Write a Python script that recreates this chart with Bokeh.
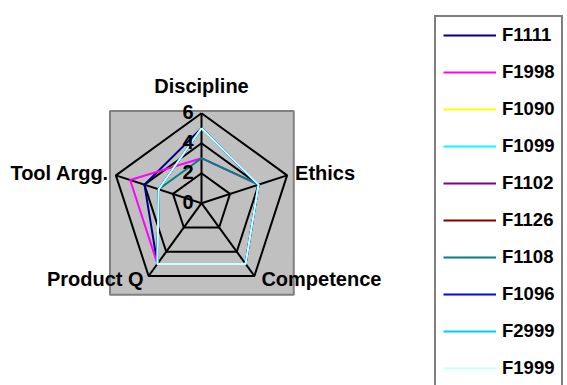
import numpy as np
from bokeh.plotting import figure
from bokeh.models import Range1d, Legend, LegendItem, ColumnDataSource
from bokeh.core.properties import value
from bokeh.embed import file_html
from bokeh.resources import INLINE

# ---------------- data ----------------
categories = ["Discipline", "Ethics", "Competence", "Product Q", "Tool Argg."]
series_names = ["F1111", "F1998", "F1090", "F1099", "F1102",
                "F1126", "F1108", "F1096", "F2999", "F1999"]
F1111 = [5, 4, 5, 5, 4]
F1998 = [3, 4, 5, 5, 5]
F1090 = [5, 4, 5, 5, 3]
F1099 = [5, 4, 5, 5, 3]
F1102 = [5, 4, 5, 5, 3]
F1126 = [5, 4, 5, 5, 3]
F1108 = [3, 4, 5, 5, 3]
F1096 = [5, 4, 5, 5, 3]
F2999 = [5, 4, 5, 5, 3]
F1999 = [5, 4, 5, 5, 3]
series_values = [F1111, F1998, F1090, F1099, F1102, F1126, F1108, F1096, F2999, F1999]
series_colors = ["#000080", "#FF00FF", "#FFFF00", "#00FFFF", "#800080",
                 "#800000", "#008080", "#0000FF", "#00CCFF", "#CCFFFF"]
tick_values = [0, 2, 4, 6]
tick_labels = ["0", "2", "4", "6"]
r_max = 6

# ---------------- layout ----------------
W, H = 567, 385
PX = 15.0                     # pixels per radial unit
cx_px, cy_px = 201.0, 202.7   # radar centre inside the canvas (px from top-left)
FONT = "Liberation Sans"

p = figure(width=W, height=H, output_backend="svg", toolbar_location=None,
           x_axis_location=None, y_axis_location=None, min_border=0,
           x_range=Range1d(-cx_px / PX, (W - cx_px) / PX),
           y_range=Range1d(-(H - cy_px) / PX, cy_px / PX))
p.grid.visible = False
p.outline_line_color = None
p.background_fill_color = "white"
p.border_fill_color = "white"

n = len(categories)
theta = np.pi / 2 - 2 * np.pi * np.arange(n) / n


def polar(vals):
    v = np.asarray(vals, dtype=float)
    return v * np.cos(theta), v * np.sin(theta)


# plot-area box
pad = 0.1
p.quad(left=-(r_max + pad), right=r_max + pad + 0.05, top=r_max + pad + 0.05, bottom=-(r_max + pad),
       fill_color="#C0C0C0", line_color="#808080", line_width=2)

# grid rings
ring_xs, ring_ys = [], []
for t in tick_values[1:]:
    x, y = polar([t] * n)
    ring_xs.append(list(x) + [x[0]])
    ring_ys.append(list(y) + [y[0]])
p.multi_line(ring_xs, ring_ys, line_color="black", line_width=2)

# spokes
ex, ey = polar([r_max] * n)
p.multi_line([[0, a] for a in ex], [[0, b] for b in ey], line_color="black", line_width=2)

# series
items = []
for name, vals, col in zip(series_names, series_values, series_colors):
    x, y = polar(vals)
    r = p.line(list(x) + [x[0]], list(y) + [y[0]], line_color=col, line_width=2)
    items.append(LegendItem(label=name, renderers=[r]))

# radial tick labels
p.text(x=[0] * len(tick_values), y=tick_values, text=tick_labels,
       text_font=value(FONT), text_font_style="bold", text_font_size="20px",
       text_align="right", text_baseline="alphabetic", x_offset=-8, y_offset=-1,
       text_color="black")

# category labels
lx, ly = polar([r_max] * n)
src = ColumnDataSource(dict(
    x=lx, y=ly, text=categories,
    align=["center", "left", "left", "right", "right"],
    xo=[0, 8, 7, -5, -7],
    yo=[-27, -2.5, 2.5, 2.5, -2],
))
p.text(x="x", y="y", text="text", source=src, text_align="align",
       x_offset="xo", y_offset="yo", text_baseline="alphabetic",
       text_font=value(FONT), text_font_style="bold", text_font_size="20px",
       text_color="black")

# legend
legend = Legend(items=items, location=(434, -3), margin=0, padding=7,
                spacing=15, glyph_width=53, glyph_height=22, label_height=22,
                label_width=52, label_standoff=6,
                label_text_font=FONT, label_text_font_style="bold",
                label_text_font_size="18.5px", label_text_color="black",
                border_line_color="black", border_line_width=2,
                background_fill_color="white", background_fill_alpha=1.0)
p.add_layout(legend)

open("out.html", "w").write(file_html(p, INLINE))
